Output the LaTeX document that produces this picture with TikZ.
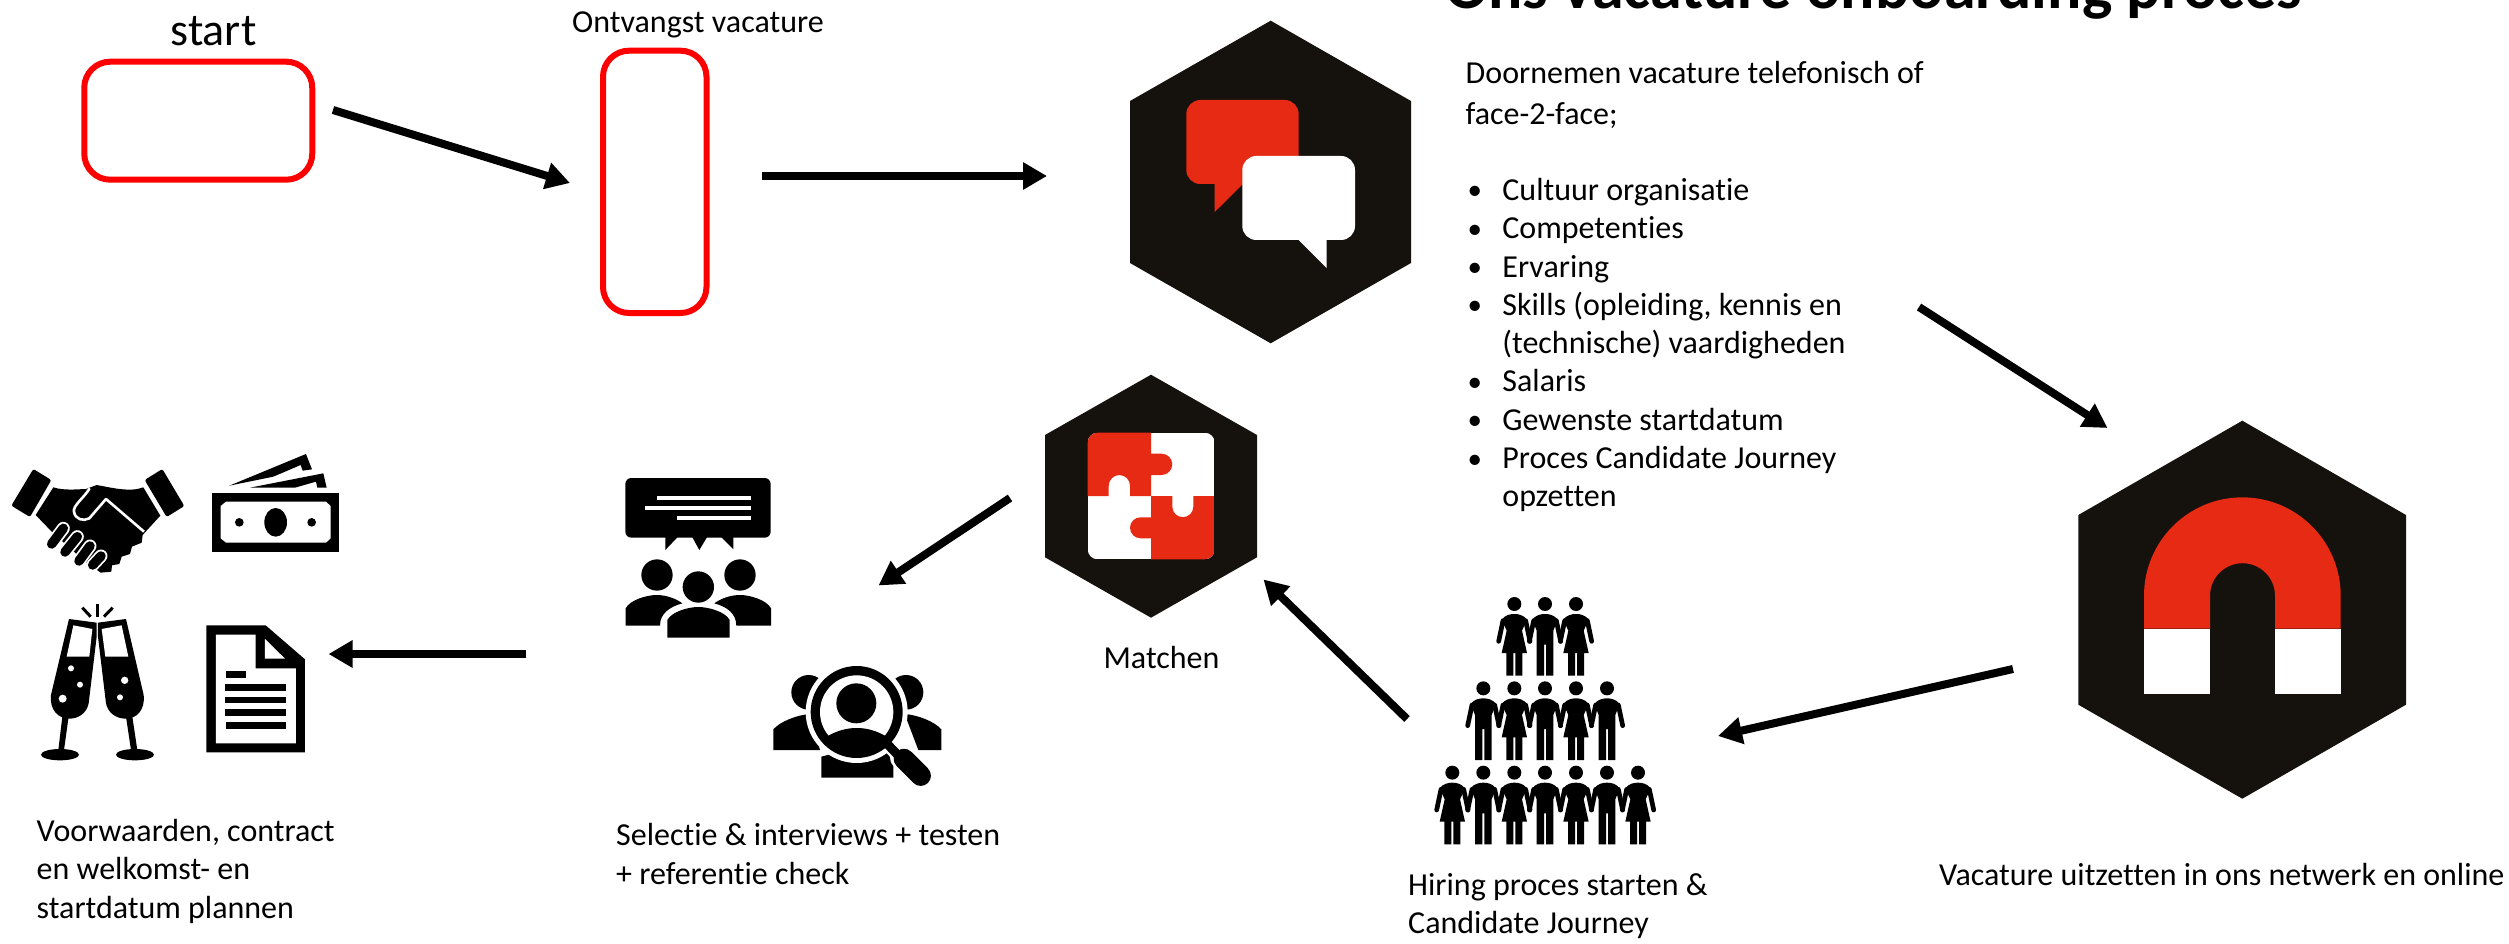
\documentclass[tikz,border=0pt]{standalone}
\usepackage{fontspec}
\setmainfont[Ligatures=NoCommon]{Carlito}
\usetikzlibrary{arrows.meta}
\definecolor{hexblack}{HTML}{15120E}
\definecolor{hexred}{HTML}{E62A13}
\newcommand{\bul}{\makebox[34.7pt][l]{\raisebox{0.5pt}{\fontsize{29}{29}\selectfont •}}}
\newcommand{\nobul}{\makebox[34.7pt][l]{}}
\tikzset{
  flow/.style={line width=8pt,-{Triangle[length=24pt,width=26pt]}},
  hexa/.style={fill=hexblack},
  redbox/.style={draw=red,line width=6pt,rounded corners=26pt,fill=white},
  lbl/.style={inner sep=0pt,anchor=base west,align=left,font=\fontsize{32}{38.3}\selectfont},
  zoomed/.style 2 args={shift={(#1,#2)},x=0.33333pt,y=-0.33333pt},
  upper/.pic={
    \fill (0,0) circle[radius=21];
    \draw[line width=4.7pt,line cap=round] (34,50) -- (47,112);
    \draw[line width=4.7pt,line cap=round] (-34,50) -- (-47,112);
  },
  manfig/.pic={
    \pic {upper};
    \fill (-38,47) .. controls (-28,33) and (-12,30) .. (0,30) .. controls (12,30) and (28,33) .. (38,47)
      -- (25,80) -- (25,215) -- (3,215) -- (3,122) -- (-3,122) -- (-3,215) -- (-25,215) -- (-25,80) -- cycle;
  },
  womanfig/.pic={
    \pic {upper};
    \fill (-38,47) .. controls (-28,33) and (-12,30) .. (0,30) .. controls (12,30) and (28,33) .. (38,47)
      -- (23,80) -- (38,147) -- (24,147) -- (24,215) -- (3,215) -- (3,147) -- (-3,147) -- (-3,215) -- (-24,215) -- (-24,147) -- (-38,147) -- (-23,80) -- cycle;
  }
}
\begin{document}
\begin{tikzpicture}[x=1pt,y=-1pt]
\useasboundingbox (0,0) rectangle (2509,944);
\fill[white] (0,0) rectangle (2509,944);

% title and red boxes
\node[lbl,font=\fontsize{64}{70}\selectfont\bfseries] (title) at (1445,9) {Ons vacature onboarding proces};
\node[lbl,anchor=base,font=\fontsize{46}{50}\selectfont] (startlbl) at (213.5,46) {start};
\node[lbl] (ontv) at (572,33) {Ontvangst vacature};
\node[redbox,minimum width=228pt,minimum height=118pt] (startbox) at (198.25,120.7) {};
\node[redbox,minimum width=103.5pt,minimum height=262.3pt] (ontvbox) at (654.75,181.85) {};

% body text
\node[lbl,anchor=north west] (intro) at (1465.5,61.5) {Doornemen vacature telefonisch of\\[2.5pt]face-2-face;};
\node[lbl,anchor=north west] (bullets) at (1467.5,178) {%
\bul Cultuur organisatie\\
\bul Competenties\\
\bul Ervaring\\
\bul Skills (opleiding, kennis en\\
\nobul(technische) vaardigheden\\
\bul Salaris\\
\bul Gewenste startdatum\\
\bul Proces Candidate Journey\\
\nobul opzetten};

% labels
\node[lbl,anchor=base] (match) at (1161.5,668) {Matchen};
\node[lbl,anchor=north west] (voorw) at (36.5,819) {Voorwaarden, contract\\en welkomst- en\\startdatum plannen};
\node[lbl,anchor=north west] (select) at (616,823.5) {Selectie \& interviews + testen\\+ referentie check};
\node[lbl,anchor=north west] (hiring) at (1408,873) {Hiring proces starten \&\\Candidate Journey};
\node[lbl] (uitz) at (1939,885) {Vacature uitzetten in ons netwerk en online};

% hexagon 1: speech bubbles
\fill[hexa] (1270.7,20.7) -- (1411,101) -- (1411,263) -- (1270.7,343.3) -- (1130,263) -- (1130,101) -- cycle;
\fill[hexred,rounded corners=14pt] (1186.3,100) rectangle (1298.7,184);
\fill[hexred] (1214.7,180) -- (1214.7,212) -- (1245,182) -- (1245,180) -- cycle;
\fill[white,rounded corners=14pt] (1242.3,156) rectangle (1355,240);
\fill[white] (1298.7,236) -- (1298.7,240) -- (1326.7,268) -- (1326.7,236) -- cycle;

% hexagon 2: puzzle
\fill[hexa] (1151,374.7) -- (1257,435) -- (1257,557.3) -- (1151,617.7) -- (1045,557.3) -- (1045,435) -- cycle;
\begin{scope}
\clip[rounded corners=10pt] (1087.7,432.7) rectangle (1214.7,559.3);
\fill[white] (1087.7,432.7) rectangle (1214.7,559.3);
\fill[hexred] (1087.7,432.7) -- (1151,432.7) -- (1151,453.7) -- (1161.6,453.7)
  arc[start angle=270,end angle=450,radius=10.65] -- (1151,475) -- (1151,496) -- (1130,496) -- (1130,485.7)
  arc[start angle=360,end angle=180,radius=10.65] -- (1108.7,496) -- (1087.7,496) -- cycle;
\fill[hexred] (1151,496) -- (1172.3,496) -- (1172.3,506.7)
  arc[start angle=180,end angle=0,radius=10.5] -- (1193.3,496) -- (1214.7,496) -- (1214.7,559.3) -- (1151,559.3) -- (1151,538.3) -- (1140.5,538.3)
  arc[start angle=90,end angle=270,radius=10.5] -- (1151,517.3) -- cycle;
\end{scope}

% hexagon 3: magnet
\fill[hexa] (2242.3,420.7) -- (2406,515) -- (2406,704.7) -- (2242.3,798.7) -- (2078.3,704.7) -- (2078.3,515) -- cycle;
\fill[hexred] (2144,628.7) -- (2144,595.7) arc[start angle=180,end angle=360,radius=98.35] -- (2340.7,628.7) -- (2275,628.7) -- (2275,595.7)
  arc[start angle=360,end angle=180,radius=32.5] -- (2210,628.7) -- cycle;
\fill[white] (2144,628.7) rectangle (2210,694.3);
\fill[white] (2275,628.7) rectangle (2340.7,694.3);

% handshake, money, flutes, contract
\begin{scope}[zoomed={0}{420}]
% cuffs
\fill[rounded corners=2pt] (100,147) -- (154,180) -- (90,291) -- (34,257) -- cycle;
\fill[rounded corners=2pt] (487,147) -- (553,258) -- (500,291) -- (434,180) -- cycle;
% hands
\fill (160,202) .. controls (190,212) and (230,208) .. (258,207) -- (290,195) .. controls (330,202) and (390,218) .. (430,202)
  -- (481,287) -- (437,335) -- (428,345) -- (425,368) -- (396,380) -- (390,402) -- (365,410) -- (358,432) -- (336,436) -- (334,455) -- (302,458) -- (250,420)
  -- (160,340) -- (107,285) -- cycle;
\draw[white,line width=2.6pt] (318,237) -- (432,335);
\draw[white,line width=2.6pt,line cap=round] (318,237) -- (268,295) .. controls (250,305) and (225,298) .. (222,275) .. controls (218,258) and (250,235) .. (268,207);
% fingers
\draw[white,line width=13pt,line cap=round] (190,325) -- (155,372);
\draw[white,line width=13pt,line cap=round] (232,350) -- (195,396);
\draw[white,line width=13pt,line cap=round] (270,378) -- (237,423);
\draw[white,line width=13pt,line cap=round] (303,408) -- (278,435);
\draw[line width=9.5pt,line cap=round] (190,325) -- (155,372);
\draw[line width=9.5pt,line cap=round] (232,350) -- (195,396);
\draw[line width=9.5pt,line cap=round] (270,378) -- (237,423);
\draw[line width=9.5pt,line cap=round] (303,408) -- (278,435);
% money
\fill (637,220) rectangle (1017,395);
\fill[white] (678,245) -- (978,245) -- (992,258) -- (992,355) -- (978,368) -- (678,368) -- (662,355) -- (662,258) -- cycle;
\fill (827,307) ellipse[x radius=34,y radius=43];
\fill (718,307) circle[radius=13];
\fill (935,307) circle[radius=13];
\fill (688,197) -- (918,102) -- (936,148) -- (908,152) -- (902,135) -- (820,170) -- cycle;
\fill (750,203) -- (970,160) -- (980,203) -- (952,203) -- (948,185) -- (885,203) -- cycle;
% flutes
\fill (207,597) -- (290,608) -- (290,650) -- (266,850) .. controls (260,880) and (235,896) .. (208,896) .. controls (175,896) and (148,870) .. (153,825) -- cycle;
\fill (378,597) -- (294,608) -- (294,650) -- (318,850) .. controls (324,880) and (350,896) .. (377,896) .. controls (410,896) and (436,870) .. (431,825) -- cycle;
\fill[white] (220,616) -- (277,627) -- (268,710) -- (200,710) -- cycle;
\fill[white] (365,616) -- (305,627) -- (316,710) -- (385,710) -- cycle;
\fill[white] (213,745) circle[radius=9];
\fill[white] (240,794) circle[radius=9];
\fill[white] (188,836) circle[radius=12];
\fill[white] (374,781) circle[radius=11];
\fill[white] (360,832) circle[radius=9];
\fill (187,890) -- (206,890) -- (192,990) -- (175,990) -- cycle;
\fill (378,890) -- (397,890) -- (412,990) -- (393,990) -- cycle;
\fill (180,1004) ellipse[x radius=57,y radius=17];
\fill (405,1004) ellipse[x radius=57,y radius=17];
\draw[line width=3pt] (247,563) -- (272,590);
\draw[line width=3pt] (292,552) -- (292,590);
\draw[line width=3pt] (338,563) -- (312,590);
% contract
\fill (619,616) -- (797,616) -- (915,718) -- (915,997) -- (619,997) -- cycle;
\fill[white] (648,644) -- (767,644) -- (767,745) -- (888,745) -- (888,970) -- (648,970) -- cycle;
\fill[white] (795,657) -- (855,716) -- (795,716) -- cycle;
\fill (677,754) rectangle (738,773);
\fill (675,792) rectangle (858,813);
\fill (675,830) rectangle (858,850);
\fill (675,868) rectangle (858,888);
\fill (677,907) rectangle (858,926);
\end{scope}

% meeting and search groups
\begin{scope}[zoomed={580}{440}]
\fill[rounded corners=6pt] (136,114) rectangle (572,293);
\fill (256,290) -- (294,290) -- (256,330) -- cycle;
\fill (336,290) -- (382,290) -- (358,330) -- cycle;
\fill (422,290) -- (460,290) -- (460,328) -- cycle;
\fill[white] (232,168) rectangle (513,180);
\fill[white] (196,198) rectangle (513,210);
\fill[white] (291,228) rectangle (513,240);
\fill (231,405) circle[radius=47];
\fill (480,405) circle[radius=47];
\fill (355,441) circle[radius=47];
\fill (137,557) -- (137,505) .. controls (150,480) and (200,465) .. (230,465) .. controls (260,465) and (290,477) .. (307,490)
  .. controls (270,500) and (240,520) .. (240,557) -- cycle;
\fill (573,557) -- (573,505) .. controls (560,480) and (510,465) .. (480,465) .. controls (450,465) and (420,477) .. (403,490)
  .. controls (440,500) and (469,520) .. (469,557) -- cycle;
\fill (262,593) -- (262,540) .. controls (275,515) and (325,501) .. (355,501) .. controls (385,501) and (436,515) .. (449,540) -- (449,593) -- cycle;
% search
\fill (686,757) circle[radius=52];
\fill (978,757) circle[radius=52];
\fill (580,930) -- (580,868) .. controls (600,845) and (650,825) .. (690,822) -- (720,930) -- cycle;
\fill (1084,930) -- (1084,868) .. controls (1064,845) and (1014,825) .. (974,822) -- (1015,930) -- cycle;
\fill (724,1013) -- (724,950) -- (800,930) -- (940,930) -- (940,1013) -- cycle;
\draw[white,line width=27pt,line cap=round] (970,950) -- (1022,1007);
\draw[white,line width=15pt] (925,912) -- (965,955);
\fill[white] (830,816) circle[radius=153];
\fill (830,816) circle[radius=138];
\fill[white] (830,816) circle[radius=110];
\fill (829,790) circle[radius=60];
\begin{scope}
\clip (830,816) circle[radius=112];
\fill (740,890) .. controls (770,872) and (800,864) .. (830,864) .. controls (860,864) and (890,872) .. (920,890) -- (920,940) -- (740,940) -- cycle;
\end{scope}
\draw[line width=9pt] (920,910) -- (960,952);
\draw[line width=20.5pt,line cap=round] (972,957) -- (1022,1007);
\end{scope}

% people pyramid
\begin{scope}[zoomed={1400}{580}]
\pic at (343,72) {womanfig};
\pic at (435,72) {manfig};
\pic at (528,72) {womanfig};
\pic at (250,325) {manfig};
\pic at (343,325) {womanfig};
\pic at (435,325) {manfig};
\pic at (528,325) {womanfig};
\pic at (621,325) {manfig};
\pic at (157,578) {womanfig};
\pic at (250,578) {manfig};
\pic at (343,578) {womanfig};
\pic at (435,578) {manfig};
\pic at (528,578) {womanfig};
\pic at (621,578) {manfig};
\pic at (714,578) {womanfig};
\end{scope}

% connectors
\coordinate (a1s) at (333,110);  \coordinate (a1e) at (570,183);
\coordinate (a2s) at (762,176);  \coordinate (a2e) at (1047,176);
\coordinate (a3s) at (1919,307); \coordinate (a3e) at (2107.5,428);
\coordinate (a4s) at (2013,669); \coordinate (a4e) at (1718,736);
\coordinate (a5s) at (1407,719); \coordinate (a5e) at (1263.5,579.5);
\coordinate (a6s) at (1010,498); \coordinate (a6e) at (878.5,585.5);
\coordinate (a7s) at (526,654);  \coordinate (a7e) at (328.5,654);
\draw[flow] (a1s) -- (a1e);
\draw[flow] (a2s) -- (a2e);
\draw[flow] (a3s) -- (a3e);
\draw[flow] (a4s) -- (a4e);
\draw[flow] (a5s) -- (a5e);
\draw[flow] (a6s) -- (a6e);
\draw[flow] (a7s) -- (a7e);
\end{tikzpicture}
\end{document}
